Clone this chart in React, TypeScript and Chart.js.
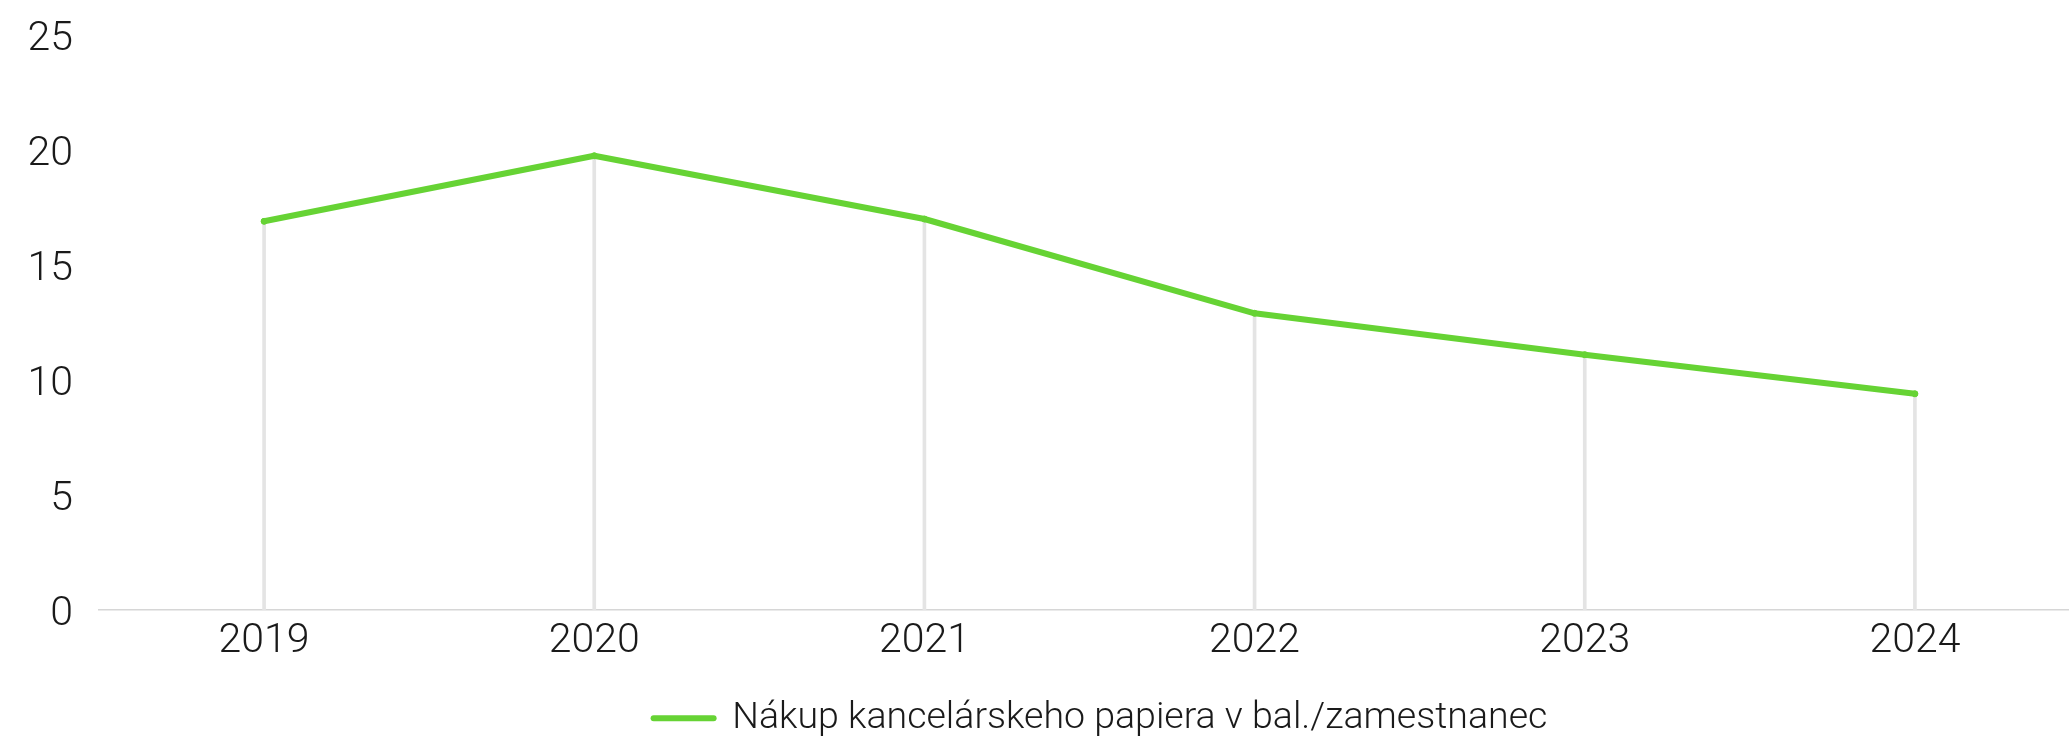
import React, { useEffect, useRef } from "react";
import { Chart, registerables } from "chart.js";

Chart.register(...registerables);

const categories = ["2019", "2020", "2021", "2022", "2023", "2024"];
const seriesLabel = "Nákup kancelárskeho papiera v bal./zamestnanec";
const paperValues = [16.9, 19.75, 17.0, 12.9, 11.1, 9.4];
const yTicks = [0, 5, 10, 15, 20, 25];

const GREEN = "#66d334";
const FONT = "Roboto, 'Open Sans', Lato, sans-serif";

const legendShift = {
  id: "legendShift",
  afterLayout(chart: any) {
    const lg = chart.legend;
    if (lg) {
      lg.left += 11;
      lg.right += 11;
    }
  },
};

export default function App() {
  const ref = useRef<HTMLCanvasElement | null>(null);

  useEffect(() => {
    if (!ref.current) return;
    const chart = new Chart(ref.current, {
      type: "bar",
      plugins: [legendShift],
      data: {
        labels: categories,
        datasets: [
          {
            type: "line",
            label: seriesLabel,
            data: paperValues,
            borderColor: GREEN,
            backgroundColor: GREEN,
            borderWidth: 6,
            borderCapStyle: "round",
            borderJoinStyle: "round",
            pointRadius: 3,
            pointBorderWidth: 1,
            pointBackgroundColor: GREEN,
            pointBorderColor: GREEN,
            tension: 0,
            order: 0,
          } as any,
          {
            type: "bar",
            label: "drop",
            data: paperValues,
            backgroundColor: "#e4e4e4",
            borderWidth: 0,
            barThickness: 3,
            order: 1,
          } as any,
        ],
      },
      options: {
        responsive: true,
        maintainAspectRatio: false,
        animation: false,
        layout: { padding: { top: 35, left: 0, right: 0, bottom: 0 } },
        plugins: {
          tooltip: { enabled: false },
          legend: {
            display: true,
            position: "bottom",
            fullSize: false,
            labels: {
              filter: (item: any) => item.datasetIndex === 0,
              generateLabels: (c: any) => {
                const items = Chart.defaults.plugins.legend.labels.generateLabels(c);
                return items.map((it: any) => ({
                  ...it,
                  lineWidth: 6,
                  lineCap: "round",
                  strokeStyle: GREEN,
                  fillStyle: GREEN,
                }));
              },
              usePointStyle: true,
              pointStyle: "line",
              pointStyleWidth: 60,
              padding: 2,
              color: "#1a1a1a",
              font: { family: FONT, size: 37.5, weight: "300" },
            },
          },
        },
        scales: {
          x: {
            offset: true,
            afterFit: (scale: any) => {
              scale.height = 87.5;
            },
            grid: { display: false, drawTicks: false },
            border: { display: true, color: "#d6d6d6", width: 1.5 },
            ticks: {
              padding: 7.5,
              color: "#1a1a1a",
              font: { family: FONT, size: 41, weight: "300" },
              maxRotation: 0,
            },
          },
          y: {
            min: 0,
            max: 25,
            afterBuildTicks: (scale: any) => {
              scale.ticks = yTicks.map((v) => ({ value: v }));
            },
            afterFit: (scale: any) => {
              scale.width = 99;
              scale.paddingTop = 0;
              scale.paddingBottom = 0;
            },
            grid: { display: false, drawTicks: false },
            border: { display: false },
            ticks: {
              padding: 26,
              labelOffset: 4.5,
              color: "#1a1a1a",
              font: { family: FONT, size: 41, weight: "300" },
            },
          },
        },
      },
    });
    return () => chart.destroy();
  }, []);

  return (
    <div
      style={{
        position: "absolute",
        left: 0,
        top: 0,
        width: 2069,
        height: 736,
        overflow: "hidden",
        background: "#fff",
      }}
    >
      <div style={{ position: "relative", width: 2085, height: 747 }}>
        <canvas ref={ref} />
      </div>
    </div>
  );
}
